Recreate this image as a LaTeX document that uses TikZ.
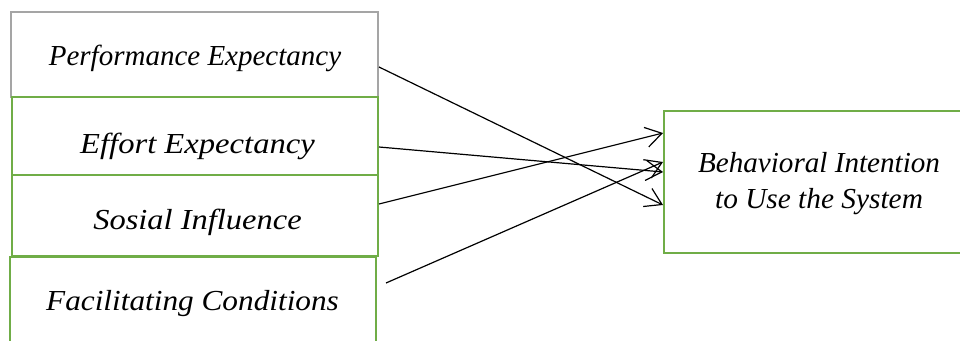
\documentclass[tikz,border=0pt]{standalone}
\usepackage{fontspec}
\setmainfont{Liberation Serif}
\usetikzlibrary{arrows.meta}
\definecolor{boxgreen}{HTML}{70AD47}
\definecolor{boxgray}{HTML}{A5A5A5}
% horizontally widened label text
\newcommand{\widetext}[2]{\scalebox{#1}[1]{#2}}
\tikzset{
  box/.style={draw=boxgreen, line width=2pt, rectangle, inner sep=0pt},
  graybox/.style={box, draw=boxgray},
  lbl/.style={font=\fontsize{29}{36}\selectfont\itshape, inner sep=0pt, anchor=base},
  link/.style={line width=1.2pt, -{Straight Barb[length=16pt,width=20pt]}}
}
\begin{document}
\begin{tikzpicture}[x=1pt,y=-1pt]
\useasboundingbox (0,0) rectangle (960,340);
\clip (0,0) rectangle (960,340);
\fill[white] (0,0) rectangle (960,340);

% predictor boxes, stacked
\node[graybox, minimum width=367pt, minimum height=85pt] (pe) at (194.5,54.5) {};
\node[box, minimum width=366pt, minimum height=78pt] (ee) at (195,136) {};
\node[box, minimum width=366pt, minimum height=81pt] (si) at (195,215.5) {};
\node[box, minimum width=366pt, minimum height=110pt] (fc) at (193,311.5) {};

% outcome box
\node[box, minimum width=320pt, minimum height=142pt] (bi) at (824,182) {};

% labels
\node[lbl] (tpe) at (195,65.5) {\widetext{1.0}{Performance Expectancy}};
\node[lbl] (tee) at (197.5,153) {\widetext{1.125}{Effort Expectancy}};
\node[lbl] (tsi) at (197.5,229) {\widetext{1.12}{Sosial Influence}};
\node[lbl] (tfc) at (192.5,310) {\widetext{1.078}{Facilitating Conditions}};
\node[lbl] (tbi1) at (819,172) {\widetext{1.005}{Behavioral Intention}};
\node[lbl] (tbi2) at (819,208) {\widetext{1.012}{to Use the System}};

% connector end points on the boxes
\coordinate (pe-out) at ([yshift=-12.5pt]pe.east);
\coordinate (ee-out) at ([yshift=-11pt]ee.east);
\coordinate (si-out) at ([yshift=11.5pt]si.east);
\coordinate (fc-out) at ([xshift=9pt,yshift=28.5pt]fc.east);
\coordinate (bi-a) at ([yshift=-23pt]bi.west);
\coordinate (bi-b) at ([yshift=10pt]bi.west);
\coordinate (bi-c) at ([yshift=49pt]bi.west);
\coordinate (bi-d) at ([yshift=20pt]bi.west);

% paths
\draw[link] (pe-out) -- (bi-a);
\draw[link] (ee-out) -- (bi-b);
\draw[link] (si-out) -- (bi-c);
\draw[link] (fc-out) -- (bi-d);
\end{tikzpicture}
\end{document}
